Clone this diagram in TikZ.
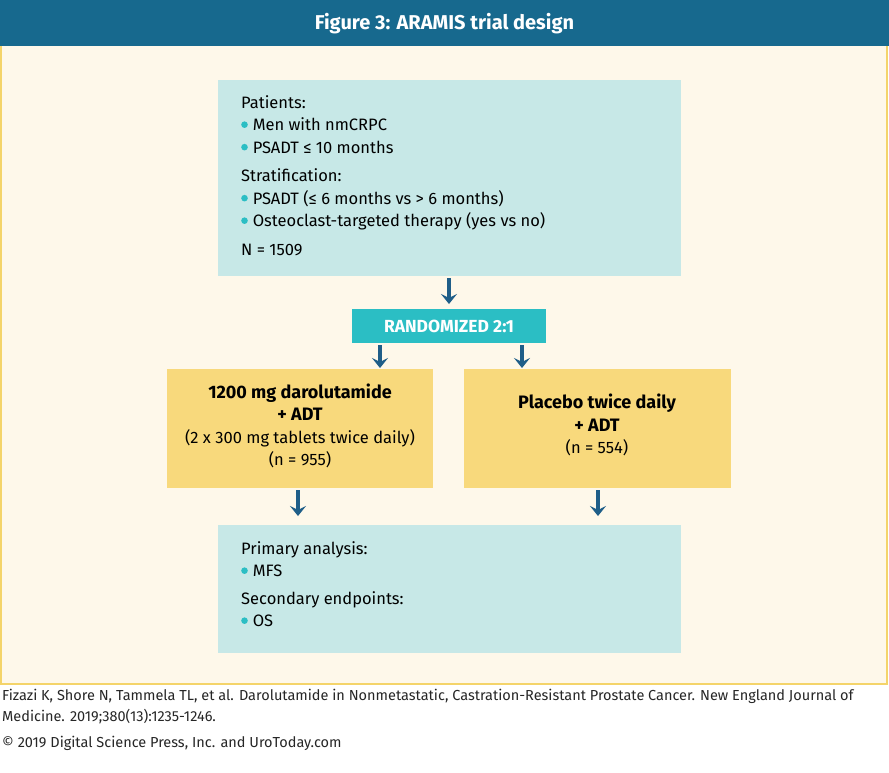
\documentclass[tikz,border=0pt]{standalone}
\usepackage{fontspec}
\setmainfont{Fira Sans}
\usetikzlibrary{arrows.meta,positioning}
\definecolor{hdrblue}{HTML}{17698E}
\definecolor{cream}{HTML}{FEF8EA}
\definecolor{goldline}{HTML}{F4D46A}
\definecolor{paleteal}{HTML}{C7E8E7}
\definecolor{teal}{HTML}{2BBEC4}
\definecolor{boxyellow}{HTML}{F8D97C}
\definecolor{arrowblue}{HTML}{1F5E88}
\newcommand{\bul}{\textcolor{teal}{\raisebox{0.3ex}{\tikz\fill (0,0) circle (3.3pt);}}\hspace{5pt}}
\newcommand{\bigb}[1]{{\fontsize{18}{22}\selectfont\bfseries #1}}
\tikzset{box/.style={draw=none,inner sep=0pt},
  arr/.style={draw=arrowblue,line width=3.5pt,-{Stealth[length=10pt,width=16pt,inset=4pt]}}}
\begin{document}
\begin{tikzpicture}[x=1pt,y=-1pt,font=\fontsize{16.5}{22.5}\selectfont]
\useasboundingbox (0,0) rectangle (889,772);
\fill[white] (0,0) rectangle (889,772);
% frame and header
\filldraw[fill=cream,draw=goldline,line width=2pt] (1,45) rectangle (887,684);
\fill[hdrblue] (0,0) rectangle (889,46);
\node[text=white,font=\fontsize{20}{24}\selectfont\bfseries] (title) at (444.5,24) {Figure 3: ARAMIS trial design};
% boxes
\fill[paleteal] (218,80) rectangle (681,276);
\node[box,anchor=north west,align=left] (patients) at (241,95) {Patients:\\
\bul Men with nmCRPC\\ \bul PSADT ≤ 10 months\\[6pt]
Stratification:\\ \bul PSADT (≤ 6 months vs > 6 months)\\
\bul Osteoclast-targeted therapy (yes vs no)\\[6pt] N = 1509};
\node[box,fill=teal,minimum width=194pt,minimum height=34pt,text=white,font=\fontsize{17.5}{20}\selectfont\bfseries] (rand) at (449,326) {RANDOMIZED 2:1};
\fill[boxyellow] (167,369) rectangle (433,488);
\fill[boxyellow] (464,369) rectangle (731,488);
\node[box,align=center] (drug) at (300,426) {\bigb{1200 mg darolutamide}\\ \bigb{+ ADT}\\ (2 x 300 mg tablets twice daily)\\ (n = 955)};
\node[box,align=center] (placebo) at (597,425) {\bigb{Placebo twice daily}\\ \bigb{+ ADT}\\ (n = 554)};
\fill[paleteal] (218,525) rectangle (681,653);
\node[box,anchor=north west,align=left] (endpoints) at (241,541) {Primary analysis:\\ \bul MFS\\[5pt]
Secondary endpoints:\\ \bul OS};
% arrows
\coordinate (a1) at (449,278); \coordinate (a2) at (449,304);
\coordinate (b1) at (380,345); \coordinate (b2) at (380,368);
\coordinate (c1) at (522,345); \coordinate (c2) at (522,368);
\coordinate (d1) at (298,490); \coordinate (d2) at (298,516);
\coordinate (e1) at (598,490); \coordinate (e2) at (598,516);
\draw[arr] (a1) -- (a2);
\draw[arr] (b1) -- (b2);
\draw[arr] (c1) -- (c2);
\draw[arr] (d1) -- (d2);
\draw[arr] (e1) -- (e2);
% source
\node[box,anchor=north west,align=left,font=\fontsize{14.5}{21}\selectfont,text=black!85] (ref) at (2,689) {Fizazi K, Shore N, Tammela TL, et al. Darolutamide in Nonmetastatic, Castration-Resistant Prostate Cancer. New England Journal of\\ Medicine. 2019;380(13):1235-1246.};
\node[box,anchor=north west,font=\fontsize{14.5}{16}\selectfont,text=black!85] (copy) at (2,736) {© 2019 Digital Science Press, Inc. and UroToday.com};
\end{tikzpicture}
\end{document}
